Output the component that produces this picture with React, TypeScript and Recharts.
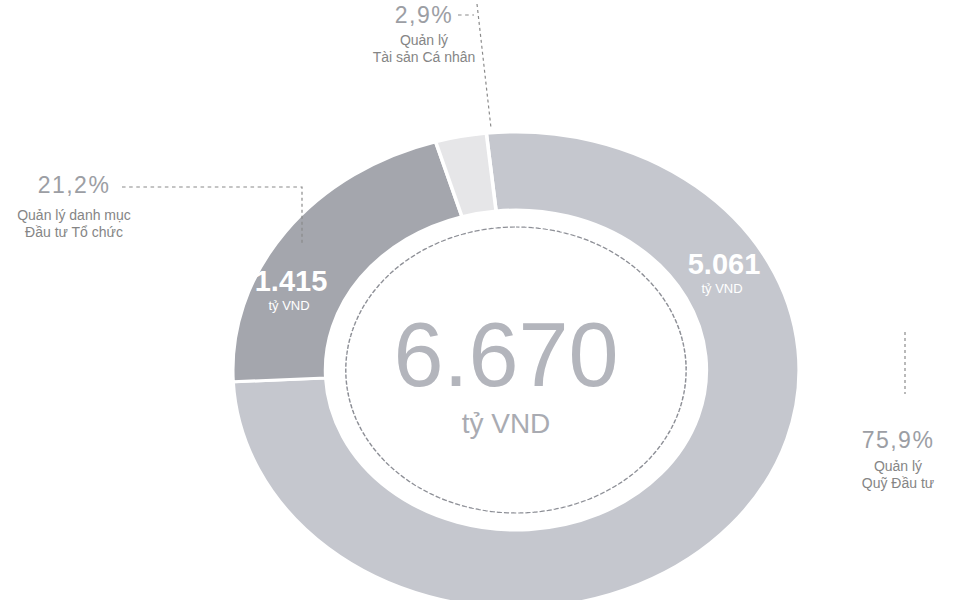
import { PieChart, Pie, Cell, Label } from 'recharts';

const segmentNames = ['Quản lý Quỹ Đầu tư', 'Quản lý danh mục Đầu tư Tổ chức', 'Quản lý Tài sản Cá nhân'];
const segmentCaptions = [
  ['Quản lý', 'Quỹ Đầu tư'],
  ['Quản lý danh mục', 'Đầu tư Tổ chức'],
  ['Quản lý', 'Tài sản Cá nhân'],
];
const segmentValues = [5061, 1415, 194];
const unitLabel = 'tỷ VND';

const COLORS = ['#c5c7ce', '#a4a6ad', '#e6e6e8'];
const FONT = 'Liberation Sans, Arial, sans-serif';

// the scan is seen at an angle, so the ring is stretched sideways
const SX = 1.19;
const CX = 510;
const CY = 365;

const total = segmentValues.reduce((a, b) => a + b, 0);
const data = segmentNames.map((name, i) => ({ name, value: segmentValues[i] }));

const fmtNum = (n: number) => String(n).replace(/\B(?=(\d{3})+(?!\d))/g, '.');
const fmtPct = (v: number) => ((v / total) * 100).toFixed(1).replace('.', ',') + '%';

// annotation placement, in page pixels
const layout = [
  { val: [724, 274], pct: [898, 448], cap: 471, lines: [[[905, 332], [905, 394]]] },
  { val: [291, 291], pct: [74, 193], cap: 220, lines: [[[122, 187], [302, 187], [302, 245]]] },
  { val: null, pct: [424, 23], cap: 45, lines: [[[458, 15], [474, 15]], [[477, 4], [491, 128]]] },
];

const px = (x: number) => CX + (x - CX) / SX;

const Txt = ({ x, y, children, ...rest }: any) => (
  <text
    transform={`translate(${px(x)},${y}) scale(${1 / SX},1)`}
    textAnchor="middle"
    fontFamily={FONT}
    {...rest}
  >
    {children}
  </text>
);

const renderLabel = (props: any) => {
  const i = props.index;
  const L = layout[i];
  const v = segmentValues[i];
  return (
    <g key={`lbl-${i}`}>
      {L.lines.map((pts, k) => (
        <polyline
          key={k}
          points={pts.map(([x, y]) => `${px(x)},${y}`).join(' ')}
          fill="none"
          stroke="#8a8a8a"
          strokeWidth={1}
          strokeDasharray="3 3"
        />
      ))}
      <Txt x={L.pct[0]} y={L.pct[1]} fontSize={23} fill="#9c9ea4" letterSpacing={1.5}>
        {fmtPct(v)}
      </Txt>
      {segmentCaptions[i].map((c, k) => (
        <Txt key={c} x={L.pct[0]} y={L.cap + k * 17} fontSize={14} fill="#858585">
          {c}
        </Txt>
      ))}
      {L.val && (
        <>
          <Txt x={L.val[0]} y={L.val[1]} fontSize={29} fontWeight="bold" fill="#ffffff">
            {fmtNum(v)}
          </Txt>
          <Txt x={L.val[0] - 2} y={L.val[1] + 19} fontSize={13} fill="#ffffff">
            {unitLabel}
          </Txt>
        </>
      )}
    </g>
  );
};

const CenterText = (props: any) => {
  const cx = props.viewBox?.cx ?? CX;
  const cy = props.viewBox?.cy ?? CY;
  return (
    <g>
      <Txt x={cx - 4} y={cy + 21} fontSize={90} fill="#b3b5bc">
        {fmtNum(total)}
      </Txt>
      <Txt x={cx - 4} y={cy + 68} fontSize={28} fill="#a9abb2">
        {unitLabel}
      </Txt>
    </g>
  );
};

export default function App() {
  return (
    <div style={{ position: 'absolute', left: 0, top: 0, width: 966, height: 600, background: '#fff', overflow: 'hidden' }}>
      <div style={{ transform: `scaleX(${SX})`, transformOrigin: `${CX}px ${CY}px` }}>
        <PieChart width={966} height={600}>
          <Pie
            data={data}
            dataKey="value"
            nameKey="name"
            cx={CX}
            cy={CY}
            innerRadius={160}
            outerRadius={238}
            startAngle={96}
            endAngle={96 - 360}
            label={renderLabel}
            labelLine={false}
            isAnimationActive={false}
          >
            {data.map((d, i) => (
              <Cell key={d.name} fill={COLORS[i]} stroke="#ffffff" strokeWidth={3} />
            ))}
          </Pie>
          <Pie
            data={[{ name: 'core', value: total }]}
            dataKey="value"
            cx={CX}
            cy={CY}
            innerRadius={143}
            outerRadius={143}
            startAngle={90}
            endAngle={-270}
            isAnimationActive={false}
          >
            <Cell fill="none" stroke="#8d8f96" strokeWidth={1.2} strokeDasharray="3 3" />
            <Label content={<CenterText />} position="center" />
          </Pie>
        </PieChart>
      </div>
    </div>
  );
}
